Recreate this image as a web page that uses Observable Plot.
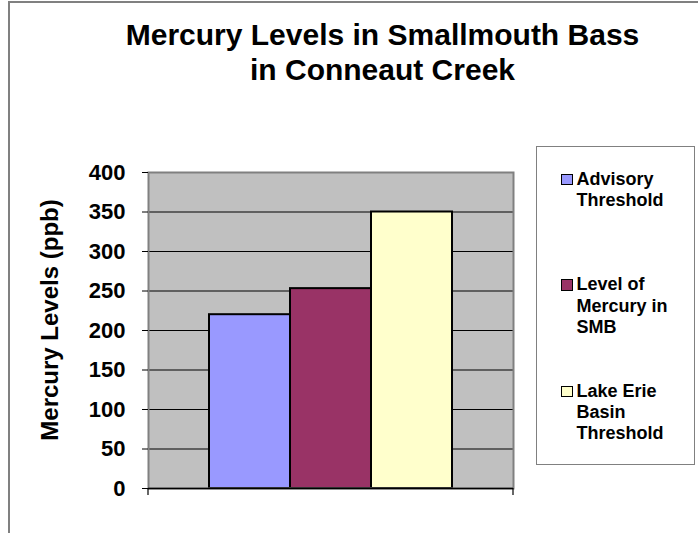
<!DOCTYPE html>
<html>
<head>
<meta charset="utf-8">
<script src="https://cdn.jsdelivr.net/npm/d3@7"></script>
<script src="https://cdn.jsdelivr.net/npm/@observablehq/plot@0.6"></script>
<style>
  html, body { margin: 0; padding: 0; background: #fff; }
  #wrap { position: relative; width: 698px; height: 533px; overflow: hidden;
          font-family: "Liberation Sans", Arial, sans-serif; font-weight: bold; color: #000; }
  #border { position: absolute; left: 8px; top: 1px; width: 720px; height: 560px;
            border-left: 2px solid #808080; border-top: 2px solid #808080; box-sizing: border-box; }
  #chart { position: absolute; left: 0; top: 0; }
  #title { position: absolute; left: 82.5px; top: 17px; width: 600px; text-align: center;
           font-size: 30px; line-height: 35px; white-space: nowrap; }
  #ylabel { position: absolute; left: 50px; top: 320px; transform: translate(-50%, -50%) rotate(-90deg);
            font-size: 24px; line-height: 24px; white-space: nowrap; }
  #legend { position: absolute; left: 535.5px; top: 146px; width: 159px; height: 318.5px;
            border: 1.5px solid #808080; box-sizing: border-box; background: #fff; }
  .item { position: absolute; left: 40px; width: 100px; font-size: 18px; line-height: 21.3px; }
  .sw { position: absolute; left: -15.5px; width: 9.5px; height: 9.5px; border: 1px solid #000; }
</style>
</head>
<body>
<div id="wrap">
  <div id="border"></div>
  <div id="chart"></div>
  <div id="title"></div>
  <div id="ylabel"></div>
  <div id="legend"></div>
</div>
<script>
// ---- data ----
const titleLines = ["Mercury Levels in Smallmouth Bass", "in Conneaut Creek"];
const yAxisLabel = "Mercury Levels (ppb)";
const series = ["Advisory Threshold", "Level of Mercury in SMB", "Lake Erie Basin Threshold"];
const values = [220, 253, 350];
const colors = ["#9999FF", "#993366", "#FFFFCC"];
const yTicks = [0, 50, 100, 150, 200, 250, 300, 350, 400];

const data = series.map((s, i) => ({series: s, value: values[i]}));

// custom mark: category-axis end ticks at plot edges
function edgeTicks(...args) {
  const dims = args.find(a => a && typeof a === "object" && "marginLeft" in a && "width" in a);
  const g = d3.create("svg:g");
  const x0 = dims.marginLeft, x1 = dims.width - dims.marginRight;
  const yb = dims.height - dims.marginBottom;
  for (const x of [x0, x1]) {
    g.append("line").attr("x1", x).attr("x2", x).attr("y1", yb).attr("y2", yb + 7)
      .attr("stroke", "#000").attr("stroke-width", 1.2);
  }
  return g.node();
}

const W = 698, H = 533;
const mL = 148, mR = 185, mT = 172, mB = 45;

const chart = Plot.plot({
  width: W,
  height: H,
  marginLeft: mL,
  marginRight: mR,
  marginTop: mT,
  marginBottom: mB,
  style: {fontFamily: "'Liberation Sans', Arial, sans-serif", fontSize: "22px", fontWeight: "bold",
          background: "transparent", overflow: "visible", color: "#000"},
  x: {type: "band", domain: series, range: [209.3, 452.3], padding: 0, axis: null},
  y: {domain: [0, 400], axis: null},
  color: {domain: series, range: colors},
  marks: [
    Plot.frame({fill: "#C0C0C0"}),
    Plot.gridY(yTicks, {stroke: "#000", strokeOpacity: 1, strokeWidth: 1}),
    Plot.barY(data, {x: "series", y: "value", fill: "series", stroke: "#000", strokeWidth: 2}),
    Plot.frame({stroke: "#808080", strokeWidth: 2}),
    Plot.ruleY([0], {stroke: "#000", strokeWidth: 1.5}),
    Plot.axisY(yTicks, {tickSize: 6, tickPadding: 17, tickFormat: d => String(d), label: null,
                        stroke: "#000", fill: "#000", fontSize: 22, fontWeight: "bold"}),
    edgeTicks
  ]
});
document.getElementById("chart").appendChild(chart);

// title
document.getElementById("title").innerHTML = titleLines.join("<br>");
// y label
document.getElementById("ylabel").textContent = yAxisLabel;

// legend
const legend = document.getElementById("legend");
const itemTops = [21.6, 127.3, 233.6]; // line-box tops relative to legend box
series.forEach((s, i) => {
  const it = document.createElement("div");
  it.className = "item";
  it.style.top = itemTops[i] + "px";
  it.textContent = s;
  const sw = document.createElement("div");
  sw.className = "sw";
  sw.style.top = "5px";
  sw.style.background = colors[i];
  it.appendChild(sw);
  legend.appendChild(it);
});
</script>
</body>
</html>
